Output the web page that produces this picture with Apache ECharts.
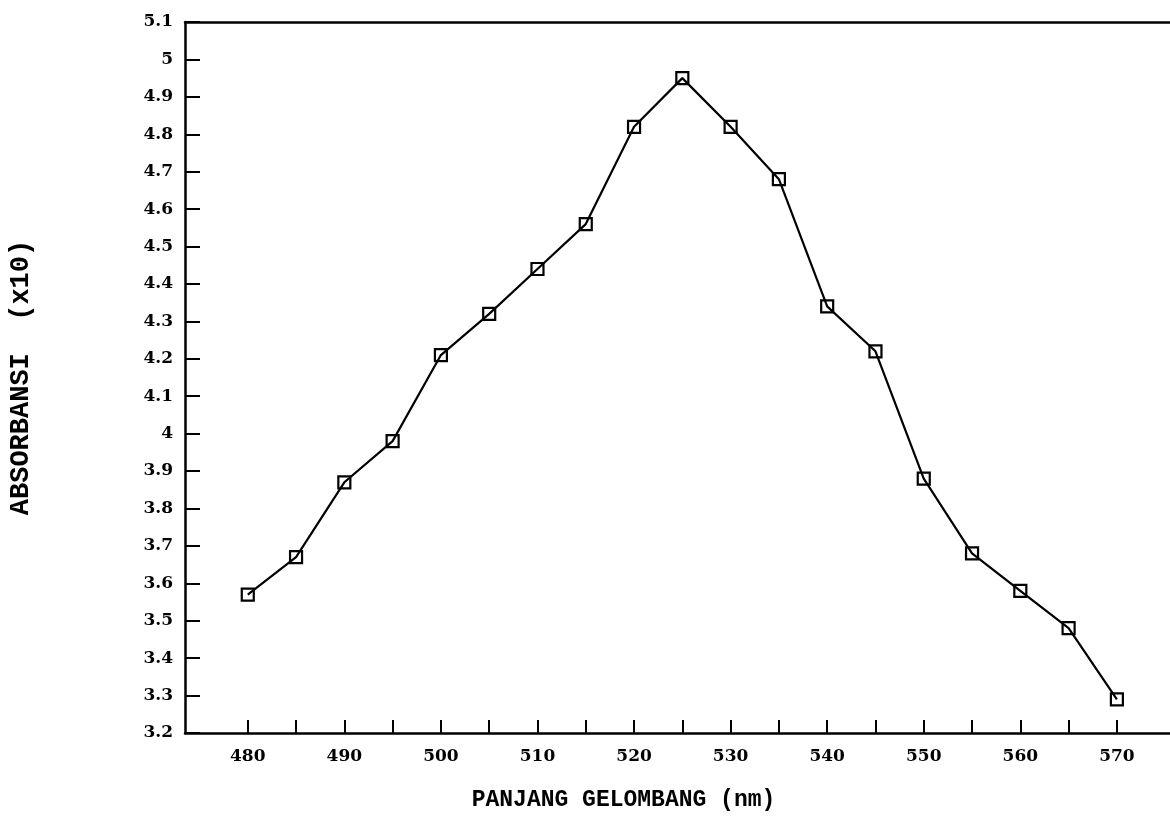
<!DOCTYPE html>
<html>
<head>
<meta charset="utf-8">
<script src="https://cdn.jsdelivr.net/npm/echarts@6/dist/echarts.min.js"></script>
<style>
  html, body { margin: 0; padding: 0; background: #fff; }
  #chart { width: 1170px; height: 817px; }
</style>
</head>
<body>
<div id="chart"></div>
<script>
// Panjang gelombang (nm) dan absorbansi (x10)
const wavelengths = [480, 485, 490, 495, 500, 505, 510, 515, 520, 525, 530, 535, 540, 545, 550, 555, 560, 565, 570];
const absorbance = [3.57, 3.67, 3.87, 3.98, 4.21, 4.32, 4.44, 4.56, 4.82, 4.95, 4.82, 4.68, 4.34, 4.22, 3.88, 3.68, 3.58, 3.48, 3.29];
const xLabelTicks = [480, 490, 500, 510, 520, 530, 540, 550, 560, 570];

const serif = 'DejaVu Serif';
const mono = 'Liberation Mono';

const chart = echarts.init(document.getElementById('chart'));

const option = {
  backgroundColor: '#fff',
  animation: false,
  grid: { left: 184, top: 22, right: 0, bottom: 84 },
  xAxis: [
    {
      type: 'value',
      min: 473.5,
      max: 575.5,
      name: 'PANJANG GELOMBANG (nm)',
      nameLocation: 'middle',
      nameGap: 56,
      // Titel sitzt links von der Achsenmitte
      nameTextStyle: { fontFamily: mono, fontWeight: 'bold', fontSize: 23, color: '#000', padding: [0, 108, 0, 0] },
      axisLine: { show: true, lineStyle: { color: '#000', width: 2.5 } },
      axisTick: {
        show: true,
        inside: true,
        length: 13,
        customValues: wavelengths,
        lineStyle: { color: '#000', width: 2 }
      },
      axisLabel: {
        customValues: xLabelTicks,
        margin: 15,
        fontFamily: serif,
        fontWeight: 'bold',
        fontSize: 17,
        color: '#000'
      },
      splitLine: { show: false }
    },
    {
      // nur die obere Rahmenlinie
      type: 'value',
      position: 'top',
      min: 473.5,
      max: 575.5,
      axisLine: { show: true, onZero: false, lineStyle: { color: '#000', width: 2.5 } },
      axisTick: { show: false },
      axisLabel: { show: false },
      splitLine: { show: false }
    }
  ],
  yAxis: {
    type: 'value',
    min: 3.2,
    max: 5.1,
    interval: 0.1,
    name: 'ABSORBANSI  (x10)',
    nameLocation: 'middle',
    nameRotate: 90,
    nameGap: 150,
    nameTextStyle: { fontFamily: mono, fontWeight: 'bold', fontSize: 27, color: '#000' },
    axisLine: { show: true, lineStyle: { color: '#000', width: 2.5 } },
    axisTick: { show: true, inside: true, length: 15, lineStyle: { color: '#000', width: 2 } },
    axisLabel: {
      margin: 12,
      fontFamily: serif,
      fontWeight: 'bold',
      fontSize: 17,
      color: '#000'
    },
    splitLine: { show: false }
  },
  series: [
    {
      type: 'line',
      data: wavelengths.map((w, i) => [w, absorbance[i]]),
      symbol: 'rect',
      symbolSize: 12,
      showAllSymbol: true,
      lineStyle: { color: '#000', width: 2.2 },
      itemStyle: { color: 'rgba(0,0,0,0)', borderColor: '#000', borderWidth: 2.2 }
    }
  ]
};

chart.setOption(option);
</script>
</body>
</html>
